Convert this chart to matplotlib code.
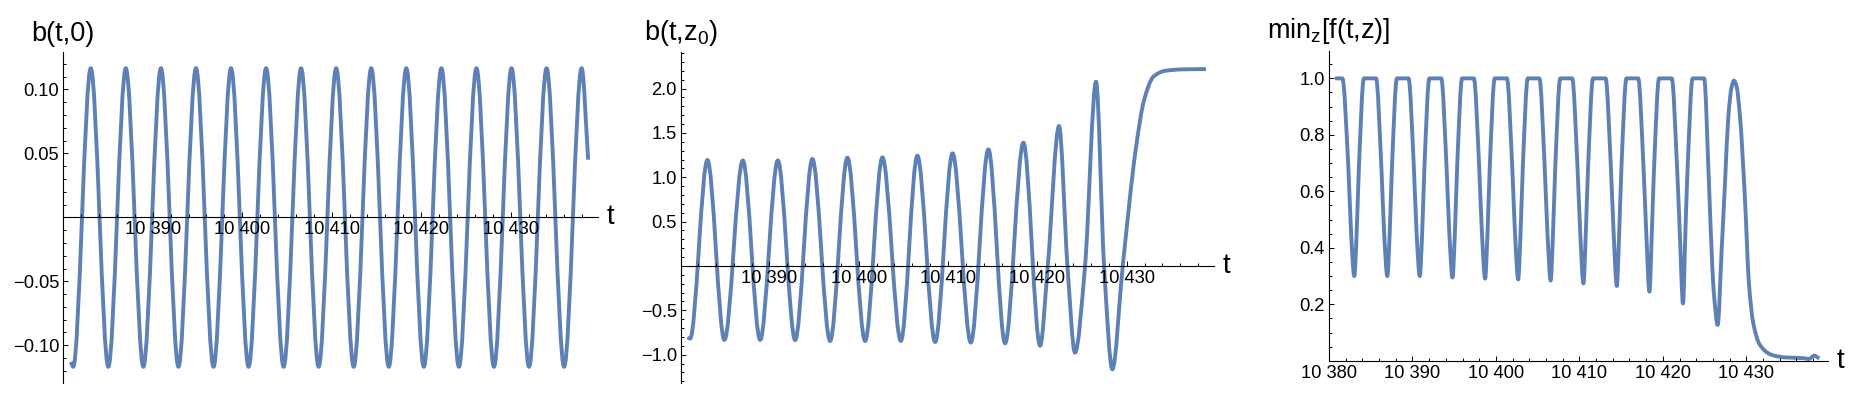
import numpy as np
import matplotlib
matplotlib.use("Agg")
import matplotlib.pyplot as plt
from matplotlib.path import Path
from matplotlib.patches import PathPatch
from matplotlib.ticker import FixedLocator, FixedFormatter, MultipleLocator

plt.rcParams['font.family'] = ['Liberation Sans', 'DejaVu Sans']
plt.rcParams['mathtext.fontset'] = 'custom'
plt.rcParams['mathtext.rm'] = 'Liberation Sans'
plt.rcParams['mathtext.it'] = 'Liberation Sans:italic'
plt.rcParams['mathtext.bf'] = 'Liberation Sans:bold'

# ---------------- data (key points) ----------------
# Panel 1: b(t,0)  -- start, alternating trough/peak, end
t1 = [10380.84,
      10381.11, 10383.07, 10385.03, 10386.99, 10388.95, 10390.91, 10392.87, 10394.83,
      10396.79, 10398.75, 10400.71, 10402.67, 10404.63, 10406.58, 10408.54, 10410.50,
      10412.46, 10414.42, 10416.38, 10418.34, 10420.30, 10422.26, 10424.22, 10426.18,
      10428.14, 10430.10, 10432.06, 10434.02, 10435.98, 10437.94,
      10438.67]
b1 = [-0.113,
      -0.1168, 0.1165, -0.1168, 0.1165, -0.1168, 0.1165, -0.1168, 0.1165,
      -0.1168, 0.1165, -0.1168, 0.1165, -0.1168, 0.1165, -0.1168, 0.1165,
      -0.1168, 0.1165, -0.1168, 0.1165, -0.1168, 0.1165, -0.1168, 0.1165,
      -0.1168, 0.1165, -0.1168, 0.1165, -0.1168, 0.1165,
      0.045]

# Panel 2: b(t,z0)
t2 = [10380.87, 10381.12, 10383.06, 10384.96, 10387.02, 10388.96, 10390.94, 10392.88,
      10394.81, 10396.79, 10398.73, 10400.71, 10402.65, 10404.71, 10406.56, 10408.55,
      10410.50, 10412.54, 10414.51, 10416.38, 10418.43, 10420.30, 10421.16, 10422.42,
      10423.36, 10424.21, 10425.33, 10426.56, 10427.46, 10428.39, 10429.55, 10431.00,
      10431.94, 10432.98, 10434.28, 10436.30, 10438.87]
b2 = [-0.80, -0.82, 1.195, -0.834, 1.19, -0.834, 1.19, -0.836,
      1.206, -0.846, 1.221, -0.846, 1.225, -0.846, 1.244, -0.857,
      1.27, -0.864, 1.315, -0.872, 1.39, -0.90, 0.0, 1.578,
      0.0, -0.977, 0.0, 2.078, 0.0, -1.165, 0.0, 1.31,
      1.87, 2.134, 2.20, 2.217, 2.22]

# Panel 3: min_z[f(t,z)]
t3 = [10380.72, 10381.60,
      10382.31, 10382.65, 10383.03, 10383.31, 10383.59, 10384.18,
      10385.64, 10386.27, 10386.61, 10386.99, 10387.27, 10387.55, 10388.14,
      10389.53, 10390.16, 10390.50, 10390.88, 10391.16, 10391.44, 10392.03,
      10393.45, 10394.08, 10394.42, 10394.80, 10395.08, 10395.36, 10395.95,
      10397.36, 10397.99, 10398.33, 10398.71, 10398.99, 10399.27, 10399.86,
      10401.32, 10401.95, 10402.29, 10402.67, 10402.95, 10403.23, 10403.82,
      10405.21, 10405.84, 10406.18, 10406.56, 10406.84, 10407.12, 10407.71,
      10409.14, 10409.77, 10410.11, 10410.49, 10410.77, 10411.05, 10411.64,
      10413.14, 10413.77, 10414.11, 10414.49, 10414.77, 10415.05, 10415.64,
      10417.05, 10417.68, 10418.02, 10418.40, 10418.68, 10418.96, 10419.55,
      10421.07, 10421.70, 10422.04, 10422.42, 10422.70, 10422.98, 10423.57,
      10424.95, 10425.53, 10425.93, 10426.17, 10426.57, 10427.05, 10427.45,
      10427.85, 10428.25, 10428.53, 10428.85, 10429.25, 10429.85, 10430.32,
      10430.84, 10431.64, 10433.04, 10434.64, 10437.03, 10437.45, 10438.15,
      10438.75]
f3 = [1.0, 1.0,
      0.69, 0.45, 0.300, 0.45, 0.69, 1.0,
      1.0, 0.69, 0.45, 0.300, 0.45, 0.69, 1.0,
      1.0, 0.69, 0.45, 0.300, 0.45, 0.69, 1.0,
      1.0, 0.69, 0.45, 0.295, 0.45, 0.69, 1.0,
      1.0, 0.69, 0.45, 0.291, 0.45, 0.69, 1.0,
      1.0, 0.69, 0.45, 0.288, 0.45, 0.69, 1.0,
      1.0, 0.69, 0.45, 0.284, 0.45, 0.69, 1.0,
      1.0, 0.69, 0.45, 0.274, 0.45, 0.69, 1.0,
      1.0, 0.69, 0.45, 0.265, 0.45, 0.69, 1.0,
      1.0, 0.69, 0.45, 0.245, 0.45, 0.69, 1.0,
      1.0, 0.69, 0.45, 0.203, 0.45, 0.69, 1.0,
      1.0, 0.628, 0.333, 0.221, 0.127, 0.392, 0.628,
      0.864, 0.970, 0.992, 0.970, 0.864, 0.569, 0.274,
      0.133, 0.056, 0.021, 0.012, 0.009, 0.006, 0.018,
      0.008]

# tick values / labels
x_ticks_12 = [10390, 10400, 10410, 10420, 10430]
x_labels_12 = ["10 390", "10 400", "10 410", "10 420", "10 430"]
x_ticks_3 = [10380, 10390, 10400, 10410, 10420, 10430]
x_labels_3 = ["10 380", "10 390", "10 400", "10 410", "10 420", "10 430"]
y_ticks_1 = [-0.10, -0.05, 0.05, 0.10]
y_labels_1 = ["\u22120.10", "\u22120.05", "0.05", "0.10"]
y_ticks_2 = [-1.0, -0.5, 0.5, 1.0, 1.5, 2.0]
y_labels_2 = ["\u22121.0", "\u22120.5", "0.5", "1.0", "1.5", "2.0"]
y_ticks_3 = [0.2, 0.4, 0.6, 0.8, 1.0]
y_labels_3 = ["0.2", "0.4", "0.6", "0.8", "1.0"]

titles = ["b(t,0)", r"b(t,z$_{\mathrm{0}}$)", r"min$_{\mathrm{z}}$[f(t,z)]"]

LINE = (0.368417, 0.506779, 0.709798)
W, H = 1872, 401


def smooth_path(t, y):
    """Monotone cubic (PCHIP-type) Bezier path through the key points."""
    t = np.asarray(t, float)
    y = np.asarray(y, float)
    h = np.diff(t)
    d = np.diff(y) / h
    n = len(t)
    m = np.zeros(n)
    for k in range(1, n - 1):
        if d[k - 1] * d[k] > 0:
            w1 = 2 * h[k] + h[k - 1]
            w2 = h[k] + 2 * h[k - 1]
            m[k] = (w1 + w2) / (w1 / d[k - 1] + w2 / d[k])
    m[0] = d[0]
    m[-1] = d[-1]
    verts = [(t[0], y[0])]
    codes = [Path.MOVETO]
    for k in range(n - 1):
        verts += [(t[k] + h[k] / 3, y[k] + m[k] * h[k] / 3),
                  (t[k + 1] - h[k] / 3, y[k + 1] - m[k + 1] * h[k] / 3),
                  (t[k + 1], y[k + 1])]
        codes += [Path.CURVE4] * 3
    return Path(verts, codes)


def make_axes(fig, left, right, top, bottom):
    return fig.add_axes([left / W, (H - bottom) / H, (right - left) / W, (bottom - top) / H])


def style(ax, xlim, ylim, xt, xl, yt, yl, yminor, zero_axis, title, title_off):
    ax.set_xlim(*xlim)
    ax.set_ylim(*ylim)
    ax.patch.set_alpha(0)
    for s in ("top", "right"):
        ax.spines[s].set_visible(False)
    for s in ("left", "bottom"):
        ax.spines[s].set_linewidth(0.8)
        ax.spines[s].set_color("black")
    if zero_axis:
        ax.spines["bottom"].set_position(("data", 0))
    ax.xaxis.set_major_locator(FixedLocator(xt))
    ax.xaxis.set_major_formatter(FixedFormatter(xl))
    ax.xaxis.set_minor_locator(MultipleLocator(2))
    ax.yaxis.set_major_locator(FixedLocator(yt))
    ax.yaxis.set_major_formatter(FixedFormatter(yl))
    ax.yaxis.set_minor_locator(MultipleLocator(yminor))
    ax.tick_params(which="both", direction="in", width=0.7, colors="black",
                   labelsize=13.2, pad=3.0)
    ax.tick_params(which="major", length=3.3)
    ax.tick_params(which="minor", length=2.0)
    ax.annotate(title, xy=(0, 1), xycoords="axes fraction",
                xytext=(0, title_off), textcoords="offset pixels",
                ha="center", va="baseline", fontsize=19.5)
    yv = 0 if zero_axis else ylim[0]
    ax.annotate("t", xy=(1, yv), xycoords=("axes fraction", "data"),
                xytext=(8, 0), textcoords="offset pixels",
                ha="left", va="center", fontsize=20, annotation_clip=False)


fig = plt.figure(figsize=(W / 100, H / 100), dpi=100)

ax1 = make_axes(fig, 63.3, 598.3, 51.7, 383.3)
style(ax1, (10380.0, 10439.8), (-0.1297, 0.1294), x_ticks_12, x_labels_12,
      y_ticks_1, y_labels_1, 0.01, True, titles[0], 11)
ax1.add_patch(PathPatch(smooth_path(t1, b1), facecolor="none", edgecolor=LINE,
                        lw=2.8, joinstyle="round", capstyle="butt"))

ax2 = make_axes(fig, 681.0, 1214.3, 51.7, 383.3)
style(ax2, (10380.1, 10439.8), (-1.323, 2.416), x_ticks_12, x_labels_12,
      y_ticks_2, y_labels_2, 0.1, True, titles[1], 12)
ax2.add_patch(PathPatch(smooth_path(t2, b2), facecolor="none", edgecolor=LINE,
                        lw=2.8, joinstyle="round", capstyle="butt"))

ax3 = make_axes(fig, 1329.0, 1828.3, 50.7, 360.8)
style(ax3, (10380.0, 10439.83), (0.0, 1.098), x_ticks_3, x_labels_3,
      y_ticks_3, y_labels_3, 0.05, False, titles[2], 13)
ax3.add_patch(PathPatch(smooth_path(t3, f3), facecolor="none", edgecolor=LINE,
                        lw=2.8, joinstyle="round", capstyle="butt"))

fig.savefig("out.png", dpi=100)
